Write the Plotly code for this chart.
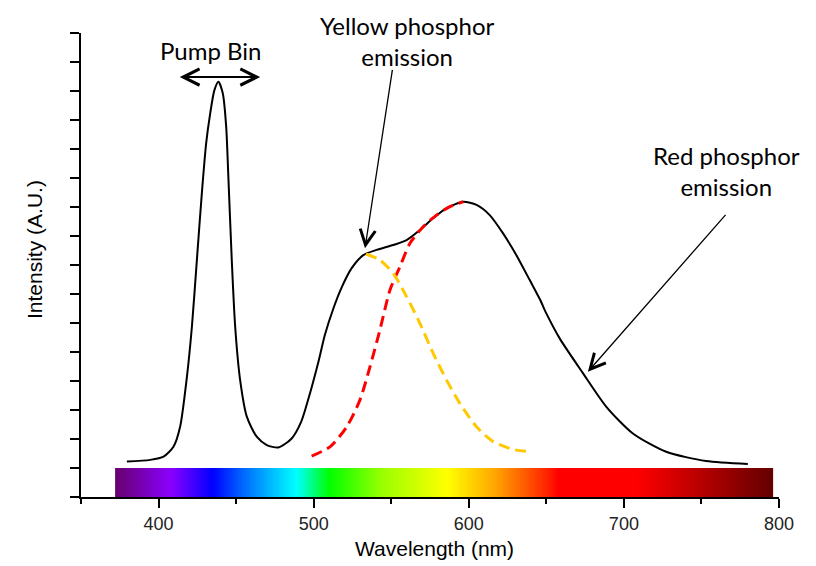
import numpy as np
import plotly.graph_objects as go

# ---- Data ----
spec_nm = [379.6, 394.6, 403.2, 409.6, 413.9, 418.3, 421.5, 424.7, 427.9, 430.7,
           433.3, 436.0, 438.6, 441.4, 443.6, 445.0, 447.2, 449.4, 452.6, 456.9,
           463.3, 469.8, 477.2, 485.5, 492.0, 497.0, 503.0, 507.3, 512.7, 518.0,
           524.5, 532.0, 540.6, 551.3, 559.9, 568.5, 577.0, 585.7, 596.4, 605.0,
           613.5, 622.1, 630.7, 639.3, 646.0, 650.0, 658.6, 673.6, 688.7, 705.8,
           727.3, 753.0, 779.9]
spec_int = [1.22, 1.28, 1.39, 1.73, 2.42, 4.15, 5.87, 8.17, 10.47, 12.2,
            13.23, 14.03, 14.32, 13.92, 12.77, 11.04, 8.17, 5.87, 4.03, 2.77,
            2.08, 1.79, 1.71, 2.0, 2.6, 3.46, 4.65, 5.6, 6.5, 7.22,
            7.89, 8.34, 8.52, 8.69, 8.86, 9.21, 9.61, 9.96, 10.18, 10.07,
            9.72, 9.09, 8.34, 7.48, 6.8, 6.33, 5.47, 4.27, 3.11, 2.19,
            1.56, 1.24, 1.14]

red_nm = [498.7, 510.5, 521.3, 529.8, 536.3, 542.7, 549.2, 555.6, 562.1, 570.6,
          579.2, 587.8, 596.4]
red_int = [1.41, 1.73, 2.42, 3.34, 4.49, 5.76, 7.14, 7.94, 8.75, 9.32,
           9.72, 10.01, 10.18]

yel_nm = [533.7, 542.7, 551.3, 559.9, 568.5, 577.0, 585.7, 594.2, 605.0, 615.7,
          628.6, 639.3]
yel_int = [8.38, 8.17, 7.71, 6.91, 5.99, 4.96, 4.03, 3.23, 2.42, 1.91,
           1.64, 1.56]

# visible-spectrum bar: colour stops (nm, colour)
bar_start, bar_end = 372, 796
stop_nm = [372, 408, 435, 454, 471, 489, 510, 544, 586, 617, 651, 658, 708, 744, 796]
stop_col = ['#68006e', '#8a00ff', '#0000ff', '#0066ff', '#00b4ff', '#00ffff', '#00ff00',
            '#99ff00', '#ffff00', '#ffa500', '#ff2000', '#ff0000', '#ff0000', '#c00000',
            '#640000']

x_tickvals = [400, 500, 600, 700, 800]
x_ticktext = ['400', '500', '600', '700', '800']

# ---- Figure ----
# the page body has an 8px margin; figure is sized so that the plot lands where
# it sits in the reference window
OFF = 8
W, H = 816 - OFF, 566 - OFF
ML, MR, MT, MB = 81 - OFF, 37, 33 - OFF, 69
PW, PH = W - ML - MR, H - MT - MB


def px2paper(px, py):
    """page pixel -> paper coords"""
    fx, fy = px - OFF, py - OFF
    return (fx - ML) / PW, (H - MB - fy) / PH


fig = go.Figure()

edges = np.arange(bar_start, bar_end + 1, 1.0)
centers = (edges[:-1] + edges[1:]) / 2
colorscale = [[(n - bar_start) / (bar_end - bar_start), c] for n, c in zip(stop_nm, stop_col)]
fig.add_trace(go.Heatmap(x=edges, y=[0, 1], z=[centers.tolist()],
                         colorscale=colorscale, zmin=bar_start, zmax=bar_end,
                         showscale=False, hoverinfo='skip'))

fig.add_trace(go.Scatter(x=spec_nm, y=spec_int, mode='lines',
                         line=dict(color='black', width=2, shape='spline', smoothing=0.7),
                         showlegend=False))
fig.add_trace(go.Scatter(x=red_nm, y=red_int, mode='lines',
                         line=dict(color='#ff0000', width=3, dash='11px,6px',
                                   shape='spline', smoothing=0.7),
                         showlegend=False))
fig.add_trace(go.Scatter(x=yel_nm, y=yel_int, mode='lines',
                         line=dict(color='#ffc800', width=3, dash='11px,6px',
                                   shape='spline', smoothing=0.7),
                         showlegend=False))

txt_font = dict(family='Lato, Open Sans, sans-serif', size=24, color='black')
annos = []
for t, px, py, anch in [('Pump Bin', 210, 50, 'middle'),
                        ('Yellow phosphor<br>emission', 407, 8.5, 'top'),
                        ('Red phosphor<br>emission', 726, 171, 'middle')]:
    x, y = px2paper(px, py)
    annos.append(dict(x=x, y=y, xref='paper', yref='paper', text=t, showarrow=False,
                      font=txt_font, xanchor='center', yanchor=anch, align='center'))
# arrows
annos.append(dict(x=465.5, y=14.48, ax=412.7, ay=14.48, xref='x', yref='y',
                  axref='x', ayref='y', text='', showarrow=True, arrowhead=5,
                  startarrowhead=5, arrowside='end+start', arrowsize=1.6,
                  startarrowsize=1.6, arrowwidth=2, arrowcolor='black', standoff=0))
annos.append(dict(x=533.1, y=8.58, ax=550.9, ay=14.78, xref='x', yref='y',
                  axref='x', ayref='y', text='', showarrow=True, arrowhead=5,
                  arrowsize=2.3, arrowwidth=1.3, arrowcolor='black', standoff=0))
annos.append(dict(x=676.8, y=4.32, ax=766.4, ay=9.78, xref='x', yref='y',
                  axref='x', ayref='y', text='', showarrow=True, arrowhead=5,
                  arrowsize=2.3, arrowwidth=1.3, arrowcolor='black', standoff=0))
# y-axis title
tx, ty = px2paper(34, 250)
annos.append(dict(x=tx, y=ty, xref='paper', yref='paper', text='Intensity (A.U.)',
                  showarrow=False, textangle=-90,
                  font=dict(family='Liberation Sans, Arial, sans-serif', size=21, color='black'),
                  xanchor='center', yanchor='middle'))
# x-axis title
tx, ty = px2paper(434, 548)
annos.append(dict(x=tx, y=ty, xref='paper', yref='paper', text='Wavelength (nm)',
                  showarrow=False,
                  font=dict(family='Liberation Sans, Arial, sans-serif', size=21, color='black'),
                  xanchor='center', yanchor='middle'))

fig.update_layout(
    width=W, height=H,
    margin=dict(l=ML, r=MR, t=MT, b=MB, autoexpand=False),
    paper_bgcolor='white', plot_bgcolor='white',
    showlegend=False,
    annotations=annos,
    xaxis=dict(range=[350, 800], tickvals=x_tickvals, ticktext=x_ticktext,
               ticks='outside', ticklen=9, tickwidth=1.5, tickcolor='black',
               minor=dict(dtick=50, tick0=0, ticks='outside', ticklen=5, tickwidth=1.5,
                          tickcolor='black'),
               showline=True, linecolor='black', linewidth=2, showgrid=False,
               zeroline=False, automargin=False,
               tickfont=dict(family='Liberation Sans, Arial, sans-serif', size=18,
                             color='#222222')),
    yaxis=dict(range=[0, 16], dtick=1, tick0=0, ticks='outside', ticklen=9,
               tickwidth=1.5, tickcolor='black', showticklabels=False,
               showline=True, linecolor='black', linewidth=2, showgrid=False,
               zeroline=False, automargin=False),
)

fig.write_html('out.html')
